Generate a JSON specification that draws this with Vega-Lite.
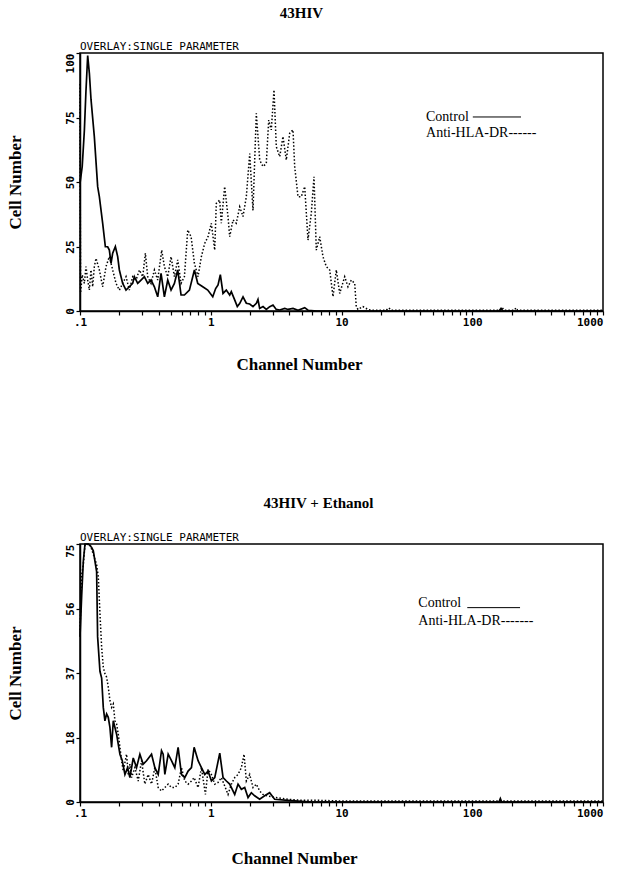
{
  "$schema": "https://vega.github.io/schema/vega-lite/v6.json",
  "background": "white",
  "padding": {"left": 5, "top": 5, "right": 5, "bottom": 5},
  "spacing": 122,
  "datasets": {
    "top_control": [
      {"ch": 0.1, "n": 49.5}, {"ch": 0.104, "n": 56}, {"ch": 0.108, "n": 70}, {"ch": 0.111, "n": 85}, {"ch": 0.1145, "n": 99},
      {"ch": 0.118, "n": 92}, {"ch": 0.1214, "n": 82}, {"ch": 0.1287, "n": 67.6}, {"ch": 0.1365, "n": 48.2}, {"ch": 0.1406, "n": 44.3},
      {"ch": 0.1491, "n": 34}, {"ch": 0.1563, "n": 24.9}, {"ch": 0.1628, "n": 24.9}, {"ch": 0.1677, "n": 23.6}, {"ch": 0.1727, "n": 18.5},
      {"ch": 0.1778, "n": 22.4}, {"ch": 0.1864, "n": 25}, {"ch": 0.1942, "n": 21.1}, {"ch": 0.2, "n": 15.9}, {"ch": 0.2121, "n": 10.7},
      {"ch": 0.2249, "n": 8.1}, {"ch": 0.2385, "n": 9.4}, {"ch": 0.2529, "n": 10.7}, {"ch": 0.2605, "n": 13.3}, {"ch": 0.2762, "n": 10.7},
      {"ch": 0.2929, "n": 12}, {"ch": 0.3107, "n": 13.3}, {"ch": 0.3295, "n": 10.7}, {"ch": 0.3494, "n": 12}, {"ch": 0.3706, "n": 9.4},
      {"ch": 0.393, "n": 5.5}, {"ch": 0.4168, "n": 14.6}, {"ch": 0.442, "n": 5.5}, {"ch": 0.4688, "n": 12}, {"ch": 0.4971, "n": 8.1},
      {"ch": 0.5272, "n": 10.7}, {"ch": 0.559, "n": 15.9}, {"ch": 0.5929, "n": 6.2}, {"ch": 0.6288, "n": 6.2}, {"ch": 0.6867, "n": 8.1},
      {"ch": 0.75, "n": 15.9}, {"ch": 0.7953, "n": 10.7}, {"ch": 0.8687, "n": 9.4}, {"ch": 0.9485, "n": 8.1}, {"ch": 1.036, "n": 5.5},
      {"ch": 1.09, "n": 8.7}, {"ch": 1.137, "n": 10.1}, {"ch": 1.184, "n": 14.1}, {"ch": 1.241, "n": 6.8}, {"ch": 1.315, "n": 8.1},
      {"ch": 1.396, "n": 6.2}, {"ch": 1.436, "n": 7.5}, {"ch": 1.524, "n": 4.3}, {"ch": 1.596, "n": 1.7}, {"ch": 1.664, "n": 2.9},
      {"ch": 1.765, "n": 5.5}, {"ch": 1.871, "n": 3}, {"ch": 1.986, "n": 2.7}, {"ch": 2.104, "n": 1.7}, {"ch": 2.233, "n": 3},
      {"ch": 2.297, "n": 4.5}, {"ch": 2.366, "n": 1}, {"ch": 2.51, "n": 1.7}, {"ch": 2.661, "n": 0.6}, {"ch": 2.825, "n": 1.7},
      {"ch": 2.992, "n": 2.3}, {"ch": 3.17, "n": 0.6}, {"ch": 3.365, "n": 0.4}, {"ch": 3.68, "n": 1}, {"ch": 3.9, "n": 0.6},
      {"ch": 4.26, "n": 1}, {"ch": 4.65, "n": 0.3}, {"ch": 5.23, "n": 1.3}, {"ch": 5.55, "n": 0.3}, {"ch": 6.5, "n": 0},
      {"ch": 20, "n": 0}, {"ch": 160, "n": 0}, {"ch": 166, "n": 1}, {"ch": 172, "n": 0}, {"ch": 1000, "n": 0}
    ],
    "top_anti": [
      {"ch": 0.1, "n": 88}, {"ch": 0.1005, "n": 40}, {"ch": 0.101, "n": 7}, {"ch": 0.104, "n": 14}, {"ch": 0.1079, "n": 10.7},
      {"ch": 0.1111, "n": 17.2}, {"ch": 0.1145, "n": 12}, {"ch": 0.1179, "n": 8.1}, {"ch": 0.1214, "n": 15.9}, {"ch": 0.125, "n": 9.4},
      {"ch": 0.1287, "n": 17.2}, {"ch": 0.1326, "n": 20.4}, {"ch": 0.1406, "n": 15.9}, {"ch": 0.1491, "n": 9.4}, {"ch": 0.1581, "n": 17.2},
      {"ch": 0.1677, "n": 21.1}, {"ch": 0.1778, "n": 15.9}, {"ch": 0.1886, "n": 10.7}, {"ch": 0.2, "n": 8.1}, {"ch": 0.2121, "n": 10.7},
      {"ch": 0.2249, "n": 13.3}, {"ch": 0.2385, "n": 8.1}, {"ch": 0.2529, "n": 13.3}, {"ch": 0.2683, "n": 12}, {"ch": 0.2846, "n": 15.9},
      {"ch": 0.3018, "n": 13.3}, {"ch": 0.3162, "n": 22.4}, {"ch": 0.3295, "n": 13.3}, {"ch": 0.3494, "n": 10.7}, {"ch": 0.3706, "n": 15.9},
      {"ch": 0.393, "n": 12}, {"ch": 0.4217, "n": 23.6}, {"ch": 0.442, "n": 17.2}, {"ch": 0.4688, "n": 13.3}, {"ch": 0.4971, "n": 21.1},
      {"ch": 0.5272, "n": 13.3}, {"ch": 0.559, "n": 19.8}, {"ch": 0.5929, "n": 10.7}, {"ch": 0.6288, "n": 13.3}, {"ch": 0.6668, "n": 31.4},
      {"ch": 0.7071, "n": 28.8}, {"ch": 0.75, "n": 18.5}, {"ch": 0.799, "n": 13.3}, {"ch": 0.847, "n": 21}, {"ch": 0.899, "n": 26.2},
      {"ch": 0.953, "n": 28.8}, {"ch": 1.01, "n": 34}, {"ch": 1.072, "n": 23.6}, {"ch": 1.103, "n": 41.7}, {"ch": 1.171, "n": 43},
      {"ch": 1.204, "n": 34}, {"ch": 1.278, "n": 48.2}, {"ch": 1.355, "n": 36.6}, {"ch": 1.396, "n": 28.8}, {"ch": 1.48, "n": 35.3},
      {"ch": 1.568, "n": 34}, {"ch": 1.665, "n": 40.4}, {"ch": 1.765, "n": 36.6}, {"ch": 1.871, "n": 44.3}, {"ch": 1.986, "n": 61},
      {"ch": 2.104, "n": 39}, {"ch": 2.231, "n": 76.6}, {"ch": 2.368, "n": 58.5}, {"ch": 2.51, "n": 56}, {"ch": 2.66, "n": 57.2},
      {"ch": 2.775, "n": 74}, {"ch": 2.905, "n": 70.2}, {"ch": 3.046, "n": 85.7}, {"ch": 3.172, "n": 63.7}, {"ch": 3.368, "n": 59.8},
      {"ch": 3.569, "n": 67.6}, {"ch": 3.783, "n": 58.5}, {"ch": 4.016, "n": 68.9}, {"ch": 4.256, "n": 70.2}, {"ch": 4.385, "n": 56},
      {"ch": 4.648, "n": 44.3}, {"ch": 4.926, "n": 44.3}, {"ch": 5.23, "n": 48.2}, {"ch": 5.543, "n": 27.5}, {"ch": 5.875, "n": 37.9},
      {"ch": 6.161, "n": 52}, {"ch": 6.416, "n": 23.6}, {"ch": 6.812, "n": 28.8}, {"ch": 7.221, "n": 21}, {"ch": 7.653, "n": 17.2},
      {"ch": 8.124, "n": 15.9}, {"ch": 8.61, "n": 5.6}, {"ch": 9.125, "n": 15.9}, {"ch": 9.69, "n": 6.8}, {"ch": 10.58, "n": 13.3},
      {"ch": 11.21, "n": 9.4}, {"ch": 11.89, "n": 12}, {"ch": 12.62, "n": 10.7}, {"ch": 12.97, "n": 1.7}, {"ch": 13.37, "n": 0.6},
      {"ch": 14.59, "n": 1.7}, {"ch": 15.94, "n": 0.6}, {"ch": 17, "n": 0.3}, {"ch": 22, "n": 0.3}, {"ch": 23, "n": 1.2},
      {"ch": 24, "n": 0.3}, {"ch": 165, "n": 0.3}, {"ch": 170, "n": 1.2}, {"ch": 176, "n": 0.3}, {"ch": 210, "n": 0.3},
      {"ch": 216, "n": 1.2}, {"ch": 222, "n": 0.3}, {"ch": 1000, "n": 0.3}
    ],
    "bot_control": [
      {"ch": 0.1, "n": 48}, {"ch": 0.103, "n": 60}, {"ch": 0.106, "n": 70}, {"ch": 0.1092, "n": 75}, {"ch": 0.1158, "n": 75},
      {"ch": 0.1228, "n": 74}, {"ch": 0.1264, "n": 73}, {"ch": 0.134, "n": 67}, {"ch": 0.1364, "n": 48}, {"ch": 0.1421, "n": 38},
      {"ch": 0.1464, "n": 36}, {"ch": 0.1507, "n": 27.5}, {"ch": 0.1551, "n": 23.6}, {"ch": 0.1598, "n": 25.6}, {"ch": 0.1645, "n": 24.6},
      {"ch": 0.1694, "n": 21.7}, {"ch": 0.1745, "n": 15.9}, {"ch": 0.1797, "n": 23.6}, {"ch": 0.1905, "n": 19.7}, {"ch": 0.202, "n": 13.9},
      {"ch": 0.2105, "n": 12}, {"ch": 0.2206, "n": 8}, {"ch": 0.2312, "n": 10}, {"ch": 0.2408, "n": 7.1}, {"ch": 0.2554, "n": 12.8},
      {"ch": 0.2707, "n": 10}, {"ch": 0.2871, "n": 13.9}, {"ch": 0.3044, "n": 11}, {"ch": 0.3228, "n": 12}, {"ch": 0.3525, "n": 13.9},
      {"ch": 0.3737, "n": 10}, {"ch": 0.3963, "n": 8}, {"ch": 0.4202, "n": 14.9}, {"ch": 0.4327, "n": 13.9}, {"ch": 0.4456, "n": 8},
      {"ch": 0.4725, "n": 13.9}, {"ch": 0.5008, "n": 12}, {"ch": 0.5311, "n": 10}, {"ch": 0.5629, "n": 15.9}, {"ch": 0.5971, "n": 8},
      {"ch": 0.6331, "n": 7.1}, {"ch": 0.6714, "n": 9}, {"ch": 0.7119, "n": 10}, {"ch": 0.7461, "n": 15.9}, {"ch": 0.8002, "n": 12},
      {"ch": 0.8487, "n": 10}, {"ch": 0.9, "n": 8}, {"ch": 0.9541, "n": 9}, {"ch": 1.012, "n": 6.1}, {"ch": 1.073, "n": 7.1},
      {"ch": 1.172, "n": 14.2}, {"ch": 1.242, "n": 7.1}, {"ch": 1.317, "n": 6.1}, {"ch": 1.396, "n": 5.2}, {"ch": 1.525, "n": 2.2},
      {"ch": 1.617, "n": 5.2}, {"ch": 1.715, "n": 3.7}, {"ch": 1.818, "n": 4.2}, {"ch": 1.928, "n": 1.3}, {"ch": 2.044, "n": 2.7},
      {"ch": 2.167, "n": 1.8}, {"ch": 2.366, "n": 0.8}, {"ch": 2.584, "n": 1.8}, {"ch": 2.821, "n": 2.7}, {"ch": 3.08, "n": 0.8},
      {"ch": 3.894, "n": 0.5}, {"ch": 4.92, "n": 0.2}, {"ch": 6, "n": 0}, {"ch": 160, "n": 0}, {"ch": 164, "n": 1},
      {"ch": 168, "n": 0}, {"ch": 1000, "n": 0}
    ],
    "bot_anti": [
      {"ch": 0.1, "n": 50}, {"ch": 0.103, "n": 66}, {"ch": 0.106, "n": 69}, {"ch": 0.1092, "n": 74.7}, {"ch": 0.1192, "n": 75},
      {"ch": 0.1264, "n": 72}, {"ch": 0.134, "n": 69}, {"ch": 0.138, "n": 65.5}, {"ch": 0.1421, "n": 54.8}, {"ch": 0.1464, "n": 45},
      {"ch": 0.1507, "n": 39.2}, {"ch": 0.1551, "n": 37.3}, {"ch": 0.1598, "n": 36.3}, {"ch": 0.1645, "n": 33.4}, {"ch": 0.1694, "n": 29.5},
      {"ch": 0.1745, "n": 27.5}, {"ch": 0.1797, "n": 28.5}, {"ch": 0.185, "n": 23.6}, {"ch": 0.1905, "n": 22.7}, {"ch": 0.1962, "n": 19.7},
      {"ch": 0.202, "n": 15.9}, {"ch": 0.208, "n": 12}, {"ch": 0.2142, "n": 9}, {"ch": 0.2271, "n": 13.9}, {"ch": 0.2339, "n": 8},
      {"ch": 0.2408, "n": 11}, {"ch": 0.248, "n": 7.1}, {"ch": 0.263, "n": 10}, {"ch": 0.2788, "n": 6.1}, {"ch": 0.2956, "n": 12},
      {"ch": 0.3134, "n": 5.2}, {"ch": 0.3323, "n": 8}, {"ch": 0.3525, "n": 5.2}, {"ch": 0.3737, "n": 10}, {"ch": 0.3963, "n": 4.2},
      {"ch": 0.4202, "n": 3.2}, {"ch": 0.4456, "n": 4.2}, {"ch": 0.4725, "n": 5.2}, {"ch": 0.5008, "n": 4.2}, {"ch": 0.5311, "n": 4.2},
      {"ch": 0.5629, "n": 5.2}, {"ch": 0.5971, "n": 10}, {"ch": 0.6331, "n": 6.1}, {"ch": 0.6714, "n": 5.2}, {"ch": 0.7119, "n": 6.1},
      {"ch": 0.7461, "n": 7.1}, {"ch": 0.8002, "n": 4.2}, {"ch": 0.8487, "n": 10}, {"ch": 0.9105, "n": 2.2}, {"ch": 0.9541, "n": 9.5},
      {"ch": 1.012, "n": 8}, {"ch": 1.073, "n": 5.2}, {"ch": 1.138, "n": 5.7}, {"ch": 1.206, "n": 7.1}, {"ch": 1.356, "n": 2.2},
      {"ch": 1.438, "n": 5.2}, {"ch": 1.525, "n": 7.1}, {"ch": 1.617, "n": 8}, {"ch": 1.715, "n": 10}, {"ch": 1.797, "n": 13.9},
      {"ch": 1.872, "n": 6.1}, {"ch": 1.985, "n": 8}, {"ch": 2.105, "n": 4.2}, {"ch": 2.232, "n": 5.2}, {"ch": 2.366, "n": 3.2},
      {"ch": 2.509, "n": 2.2}, {"ch": 2.74, "n": 1.7}, {"ch": 3.266, "n": 1.2}, {"ch": 3.894, "n": 0.8}, {"ch": 4.92, "n": 0.5},
      {"ch": 6.6, "n": 0.5}, {"ch": 10, "n": 0.3}, {"ch": 1000, "n": 0.3}
    ]
  },
  "vconcat": [
    {
      "width": 523,
      "height": 258,
      "title": {"text": "43HIV", "offset": 20, "dx": -40},
      "layer": [
        {
          "data": {"name": "top_control"},
          "mark": {"type": "line", "color": "black", "strokeWidth": 1.7},
          "encoding": {
            "x": {"field": "ch", "type": "quantitative", "scale": {"type": "log", "domain": [0.1, 1000], "nice": false},
              "axis": {"title": "Channel Number", "titlePadding": 29, "titleX": 219,
                "values": [0.1,0.2,0.3,0.4,0.5,0.6,0.7,0.8,0.9,1,2,3,4,5,6,7,8,9,10,20,30,40,50,60,70,80,90,100,200,300,400,500,600,700,800,900,1000],
                "labelExpr": "datum.value == 0.1 ? '.1' : datum.value == 1 ? '1' : datum.value == 10 ? '10' : datum.value == 100 ? '100' : datum.value == 1000 ? '1000' : ''",
                "labelAlign": {"condition": {"test": "datum.value == 1000", "value": "right"}, "value": "center"}}},
            "y": {"field": "n", "type": "quantitative", "scale": {"domain": [0, 100], "nice": false},
              "axis": {"title": "Cell Number", "titlePadding": 40, "values": [0, 25, 50, 75, 100], "labelAngle": -90,
                "labelAlign": {"condition": {"test": "datum.value == 100", "value": "right"}, "value": "center"},
                "labelBaseline": "bottom"}}
          }
        },
        {
          "data": {"name": "top_anti"},
          "mark": {"type": "line", "color": "black", "strokeWidth": 1.5, "strokeDash": [1.5, 2]},
          "encoding": {"x": {"field": "ch", "type": "quantitative"}, "y": {"field": "n", "type": "quantitative"}}
        },
        {
          "data": {"values": [{}]},
          "mark": {"type": "text", "font": "DejaVu Sans Mono", "fontSize": 11, "align": "left", "baseline": "bottom", "dy": -1, "color": "black"},
          "encoding": {"x": {"datum": 0.1}, "y": {"datum": 100}, "text": {"value": "OVERLAY:SINGLE PARAMETER"}}
        },
        {
          "data": {"values": [{}]},
          "mark": {"type": "text", "font": "Liberation Serif", "fontSize": 14, "align": "left", "baseline": "middle", "color": "black"},
          "encoding": {"x": {"datum": 44.3}, "y": {"datum": 75.2}, "text": {"value": "Control"}}
        },
        {
          "data": {"values": [{}]},
          "mark": {"type": "rule", "color": "black", "strokeWidth": 1},
          "encoding": {"x": {"datum": 101}, "x2": {"datum": 236}, "y": {"datum": 75.2}}
        },
        {
          "data": {"values": [{}]},
          "mark": {"type": "text", "font": "Liberation Serif", "fontSize": 14, "align": "left", "baseline": "middle", "color": "black"},
          "encoding": {"x": {"datum": 44.3}, "y": {"datum": 69}, "text": {"value": "Anti-HLA-DR------"}}
        }
      ]
    },
    {
      "width": 523,
      "height": 258,
      "title": {"text": "43HIV + Ethanol", "offset": 21, "dx": -23},
      "layer": [
        {
          "data": {"name": "bot_control"},
          "mark": {"type": "line", "color": "black", "strokeWidth": 1.7},
          "encoding": {
            "x": {"field": "ch", "type": "quantitative", "scale": {"type": "log", "domain": [0.1, 1000], "nice": false},
              "axis": {"title": "Channel Number", "titlePadding": 32, "titleX": 214,
                "values": [0.1,0.2,0.3,0.4,0.5,0.6,0.7,0.8,0.9,1,2,3,4,5,6,7,8,9,10,20,30,40,50,60,70,80,90,100,200,300,400,500,600,700,800,900,1000],
                "labelExpr": "datum.value == 0.1 ? '.1' : datum.value == 1 ? '1' : datum.value == 10 ? '10' : datum.value == 100 ? '100' : datum.value == 1000 ? '1000' : ''",
                "labelAlign": {"condition": {"test": "datum.value == 1000", "value": "right"}, "value": "center"}}},
            "y": {"field": "n", "type": "quantitative", "scale": {"domain": [0, 75], "nice": false},
              "axis": {"title": "Cell Number", "titlePadding": 40, "values": [0, 18.75, 37.5, 56.25, 75], "labelAngle": -90,
                "labelExpr": "floor(datum.value)",
                "labelAlign": {"condition": {"test": "datum.value == 75", "value": "right"}, "value": "center"},
                "labelBaseline": "bottom"}}
          }
        },
        {
          "data": {"name": "bot_anti"},
          "mark": {"type": "line", "color": "black", "strokeWidth": 1.5, "strokeDash": [1.5, 2]},
          "encoding": {"x": {"field": "ch", "type": "quantitative"}, "y": {"field": "n", "type": "quantitative"}}
        },
        {
          "data": {"values": [{}]},
          "mark": {"type": "text", "font": "DejaVu Sans Mono", "fontSize": 11, "align": "left", "baseline": "bottom", "dy": -1, "color": "black"},
          "encoding": {"x": {"datum": 0.1}, "y": {"datum": 75}, "text": {"value": "OVERLAY:SINGLE PARAMETER"}}
        },
        {
          "data": {"values": [{}]},
          "mark": {"type": "text", "font": "Liberation Serif", "fontSize": 14, "align": "left", "baseline": "middle", "color": "black"},
          "encoding": {"x": {"datum": 38.7}, "y": {"datum": 57.8}, "text": {"value": "Control"}}
        },
        {
          "data": {"values": [{}]},
          "mark": {"type": "rule", "color": "black", "strokeWidth": 1},
          "encoding": {"x": {"datum": 91.6}, "x2": {"datum": 232}, "y": {"datum": 56.5}}
        },
        {
          "data": {"values": [{}]},
          "mark": {"type": "text", "font": "Liberation Serif", "fontSize": 14, "align": "left", "baseline": "middle", "color": "black"},
          "encoding": {"x": {"datum": 38.7}, "y": {"datum": 52.5}, "text": {"value": "Anti-HLA-DR-------"}}
        }
      ]
    }
  ],
  "config": {
    "view": {"stroke": "black", "strokeWidth": 1.5},
    "axis": {
      "grid": false, "domainColor": "black", "domainWidth": 1.5, "tickColor": "black", "tickWidth": 1.2, "tickSize": 4,
      "labelFont": "DejaVu Sans Mono", "labelFontWeight": "bold", "labelFontSize": 11, "labelColor": "black", "labelPadding": 1,
      "labelOverlap": false, "labelBound": false,
      "titleFont": "Liberation Serif", "titleFontSize": 17, "titleFontWeight": "bold", "titleColor": "black"
    },
    "title": {"font": "Liberation Serif", "fontSize": 15, "fontWeight": "bold", "color": "black", "anchor": "middle"}
  }
}
